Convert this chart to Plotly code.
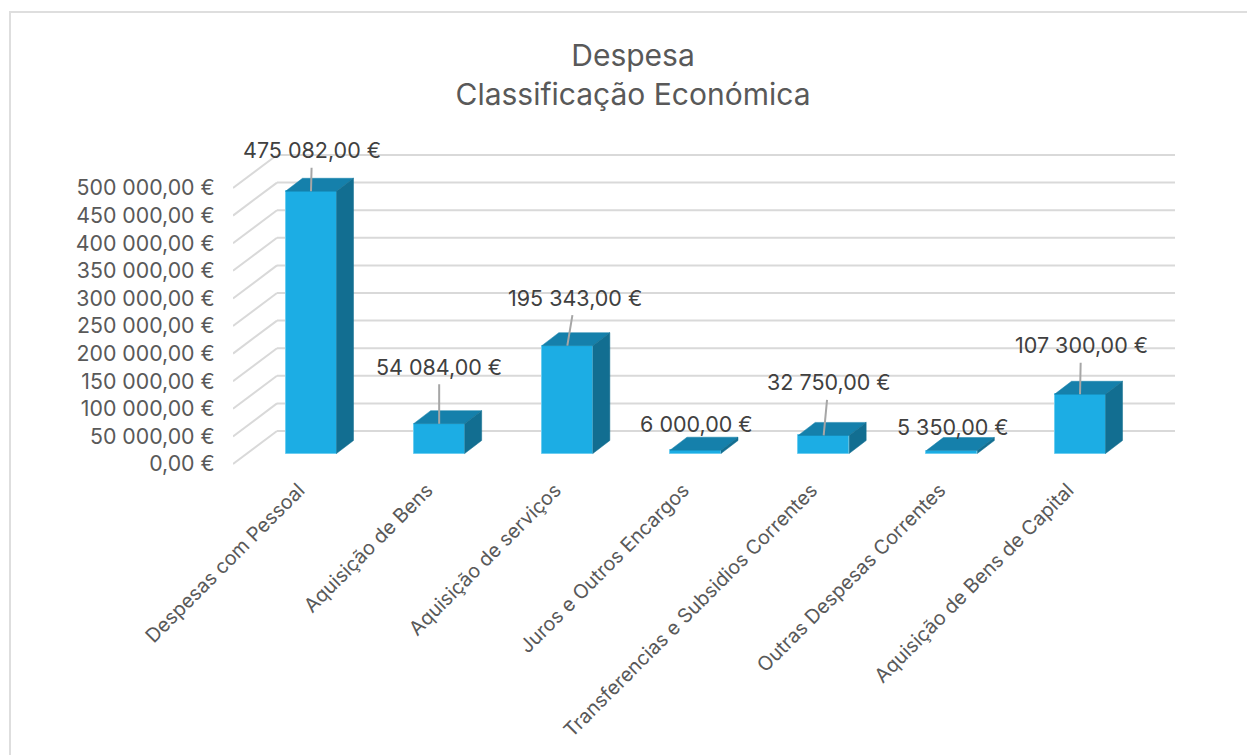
import plotly.graph_objects as go

# ---- data ----
categories = ["Despesas com Pessoal", "Aquisição de Bens", "Aquisição de serviços",
              "Juros e Outros Encargos", "Transferencias e Subsidios Correntes",
              "Outras Despesas Correntes", "Aquisição de Bens de Capital"]
values = [475082, 54084, 195343, 6000, 32750, 5350, 107300]
value_labels = ["475 082,00 €", "54 084,00 €", "195 343,00 €", "6 000,00 €",
                "32 750,00 €", "5 350,00 €", "107 300,00 €"]
tick_values = [0, 50000, 100000, 150000, 200000, 250000, 300000, 350000, 400000, 450000, 500000]
tick_labels = ["0,00 €", "50 000,00 €", "100 000,00 €", "150 000,00 €", "200 000,00 €",
               "250 000,00 €", "300 000,00 €", "350 000,00 €", "400 000,00 €",
               "450 000,00 €", "500 000,00 €"]

# ---- label placement relative to the front-top centre of each bar (pixels) ----
label_dx = [1, 0, 8, 1, 5, 1, 1]
label_dy = [-41, -57, -48, -26, -53, -24, -49]
has_leader = [True, True, True, False, True, False, True]

# ---- geometry (pixels of the page) ----
W, H = 1247, 755
P_L, P_R, P_T, P_B = 233, 1175, 125, 469   # plot box
FRONT0 = 464.0       # pixel of value 0 at the front edge of the floor
BAR0 = 453.5         # pixel of value 0 at the front face of the bars
PX_PER_VAL = 27.6 / 50000
CAT0 = 311.0
TICK_SHIFT = 12      # category labels end left of the bar centre
PX_PER_CAT = 128.17
BAR_W = 51 / PX_PER_CAT
SIDE_DX, SIDE_DY = 17 / PX_PER_CAT, 13 / PX_PER_VAL
WALL_DX, WALL_DY = 44 / PX_PER_CAT, 33 / PX_PER_VAL

GRID = "#D9D9D9"
FRONT, TOP, SIDE = "#1CADE4", "#1580AB", "#126E91"
TXT = "#595959"
FONT = "Inter"

x_range = [(P_L - CAT0 + TICK_SHIFT) / PX_PER_CAT, (P_R - CAT0 + TICK_SHIFT) / PX_PER_CAT]
x2_range = [(P_L - CAT0) / PX_PER_CAT, (P_R - CAT0) / PX_PER_CAT]
y_range = [(FRONT0 - P_B) / PX_PER_VAL, (FRONT0 - P_T) / PX_PER_VAL]
y2_range = [(BAR0 - P_B) / PX_PER_VAL, (BAR0 - P_T) / PX_PER_VAL]

fig = go.Figure()

xs = list(range(len(categories)))
fig.add_trace(go.Bar(x=xs, y=values, width=BAR_W, xaxis="x2", yaxis="y2", marker_color=FRONT,
                     marker_line=dict(color="#6CCDF0", width=1), showlegend=False))

for x, v in zip(xs, values):
    l, r = x - BAR_W / 2, x + BAR_W / 2
    fig.add_trace(go.Scatter(x=[l, r, r + SIDE_DX, l + SIDE_DX, l],
                             y=[v, v, v + SIDE_DY, v + SIDE_DY, v], xaxis="x2", yaxis="y2",
                             mode="lines", fill="toself", fillcolor=TOP,
                             line=dict(color=TOP, width=0.5), showlegend=False))
    fig.add_trace(go.Scatter(x=[r, r + SIDE_DX, r + SIDE_DX, r, r],
                             y=[0, SIDE_DY, v + SIDE_DY, v, 0], xaxis="x2", yaxis="y2",
                             mode="lines", fill="toself", fillcolor=SIDE,
                             line=dict(color=SIDE, width=0.5), showlegend=False))

shapes = []
for t in tick_values:
    shapes.append(dict(type="line", layer="below", xref="x", yref="y",
                       x0=x_range[0], y0=t, x1=x_range[0] + WALL_DX, y1=t + WALL_DY,
                       line=dict(color=GRID, width=2)))
    shapes.append(dict(type="line", layer="below", xref="x", yref="y",
                       x0=x_range[0] + WALL_DX, y0=t + WALL_DY, x1=x_range[1], y1=t + WALL_DY,
                       line=dict(color=GRID, width=2)))
# chart frame (open to the right and bottom of the page)
sx = lambda p: (p - P_L) / (P_R - P_L)
sy = lambda p: (P_B - p) / (P_B - P_T)
shapes.append(dict(type="rect", layer="below", xref="paper", yref="paper",
                   x0=sx(10), x1=sx(W + 20), y0=sy(12), y1=sy(H + 20),
                   line=dict(color="#DEDEDE", width=2)))

annotations = []
for x, v, lab, dx, dy, lead in zip(xs, values, value_labels, label_dx, label_dy, has_leader):
    a = dict(x=x, y=v, xref="x2", yref="y2", text=lab, font=dict(family=FONT, size=21.5, color="#404040"))
    if lead:
        a.update(showarrow=True, arrowhead=0, arrowwidth=2, arrowcolor="#A6A6A6",
                 ax=dx, ay=dy, borderpad=4, axref="pixel", ayref="pixel")
    else:
        a.update(showarrow=False, xshift=dx, yshift=-dy)
    annotations.append(a)

fig.update_layout(
    width=W, height=H,
    margin=dict(l=P_L, r=W - P_R, t=P_T, b=H - P_B, autoexpand=False),
    paper_bgcolor="white", plot_bgcolor="rgba(0,0,0,0)",
    title=dict(text="Despesa<br>Classificação Económica", x=633 / W, xanchor="center", xref="container",
               y=1 - 65.5 / H, yanchor="top", font=dict(family=FONT, size=30, color=TXT)),
    showlegend=False, shapes=shapes, annotations=annotations, bargap=0,
    xaxis=dict(range=x_range, tickmode="array", tickvals=xs, ticktext=categories, tickangle=-45,
               showgrid=False, zeroline=False, showline=False, ticks="outside", ticklen=1,
               tickcolor="rgba(0,0,0,0)", tickfont=dict(family=FONT, size=19.7, color=TXT)),
    yaxis=dict(range=y_range, tickmode="array", tickvals=tick_values, ticktext=tick_labels,
               showgrid=False, zeroline=False, showline=False, ticks="outside", ticklen=13,
               tickcolor="rgba(0,0,0,0)", tickfont=dict(family=FONT, size=21.3, color=TXT)),
    xaxis2=dict(range=x2_range, overlaying="x", visible=False),
    yaxis2=dict(range=y2_range, overlaying="y", visible=False),
)
fig.write_html("out.html", config={"displayModeBar": False},
               post_script="document.body.style.margin='0';")
